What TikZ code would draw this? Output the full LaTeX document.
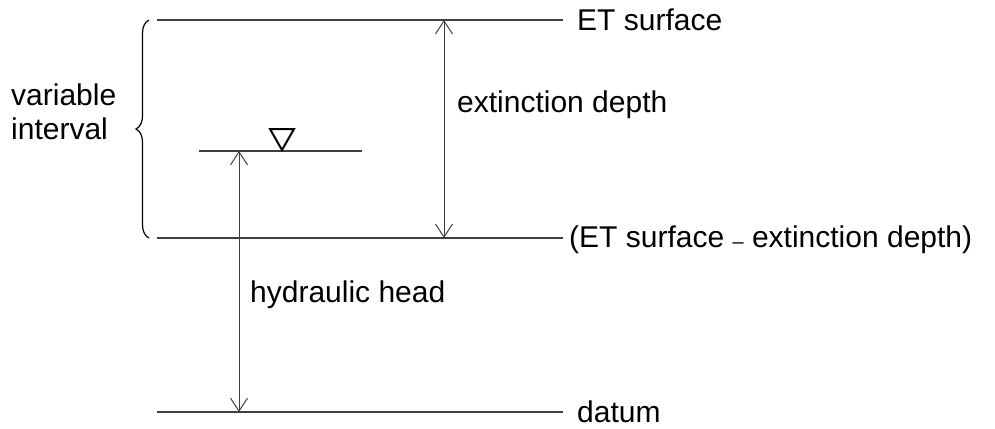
\documentclass[tikz,border=0pt]{standalone}
\usepackage{fontspec}
\setmainfont{Liberation Sans}
\usetikzlibrary{arrows.meta,decorations.pathreplacing}
\begin{document}
\begin{tikzpicture}[x=1pt,y=-1pt,
  level/.style={draw=black!75,line width=1.2pt},
  dim/.style={draw=black!75,line width=1pt,{Straight Barb[length=13pt,width=17pt]}-{Straight Barb[length=13pt,width=17pt]}},
  lbl/.style={font=\fontsize{30}{34}\selectfont,inner sep=0pt,text=black},
  lvlname/.style={lbl,anchor=west}]
\useasboundingbox (0,0) rectangle (995,428);
% levels
\coordinate (etL) at (157,20);  \coordinate (etR) at (563,20);
\coordinate (exL) at (157,238); \coordinate (exR) at (563,238);
\coordinate (dtL) at (157,412); \coordinate (dtR) at (563,412);
\coordinate (wtL) at (199,151); \coordinate (wtR) at (362,151);
\draw[level] (etL) -- (etR);
\draw[level] (exL) -- (exR);
\draw[level] (dtL) -- (dtR);
\draw[level] (wtL) -- (wtR);
% labels on levels
\node[lvlname] (et) at (577,20) {ET surface};
\node[lvlname] (ex) at (569,240) {(ET surface\ {\fontsize{20}{20}\selectfont\raisebox{-1pt}{–}}\ extinction depth)};
\node[lvlname] (dt) at (577,412) {datum};
% water table symbol
\coordinate (wtA) at (282,150);
\draw[draw=black,line width=2pt,line join=miter] (270,129) -- (294,129) -- (wtA) -- cycle;
% dimension arrows
\coordinate (edT) at (444,20); \coordinate (edB) at (444,238);
\draw[dim] (edT) -- (edB);
\node[lbl,anchor=west] (edl) at (457,105) {extinction depth};
\coordinate (hhT) at (239,151); \coordinate (hhB) at (239,412);
\draw[dim] (hhT) -- (hhB);
\node[lbl,anchor=west] (hhl) at (250,295) {hydraulic head};
% brace
\coordinate (brB) at (149,238); \coordinate (brT) at (149,20);
\draw[draw=black,line width=1.2pt,decorate,decoration={brace,amplitude=13pt}] (brB) -- (brT);
\node[lbl,anchor=west,align=left] (vi) at (11,112) {variable\\interval};
\end{tikzpicture}
\end{document}
